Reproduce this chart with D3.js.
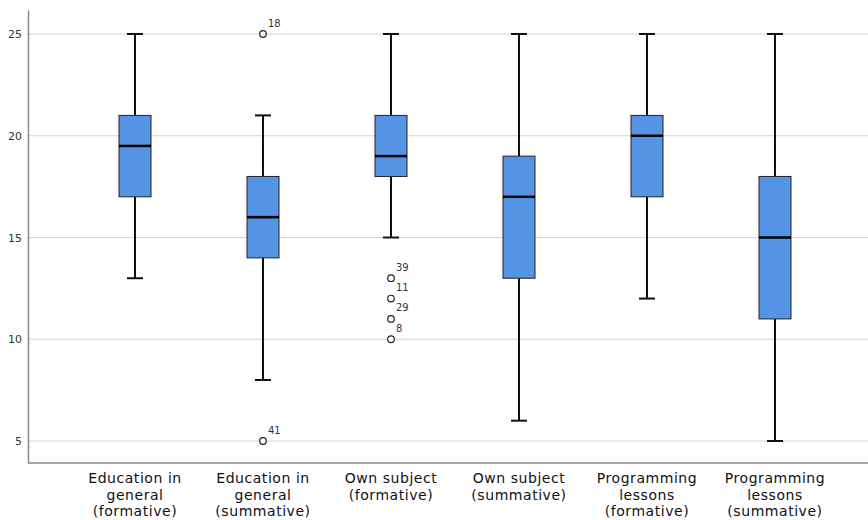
<!DOCTYPE html>
<html><head><meta charset="utf-8">
<script src="https://cdn.jsdelivr.net/npm/d3@7"></script>
<style>body{margin:0;background:#fff}svg{display:block}</style>
</head><body>
<svg id="chart" width="868" height="520"></svg>
<script>
const categories = [
  ["Education in","general","(formative)"],
  ["Education in","general","(summative)"],
  ["Own subject","(formative)"],
  ["Own subject","(summative)"],
  ["Programming","lessons","(formative)"],
  ["Programming","lessons","(summative)"]
];
const whiskerLow  = [13, 8, 15, 6, 12, 5];
const q1          = [17, 14, 18, 13, 17, 11];
const medians     = [19.5, 16, 19, 17, 20, 15];
const q3          = [21, 18, 21, 19, 21, 18];
const whiskerHigh = [25, 21, 25, 25, 25, 25];
const outliers = [
  {cat:1, value:25, label:"18"},
  {cat:1, value:5,  label:"41"},
  {cat:2, value:13, label:"39"},
  {cat:2, value:12, label:"11"},
  {cat:2, value:11, label:"29"},
  {cat:2, value:10, label:"8"}
];
const yTicks = [5, 10, 15, 20, 25];

(function(){
const svg = d3.select("#chart");
const mLeft = 28, mRight = 868, mTop = 10, mBottom = 463;
const y = d3.scaleLinear().domain([3.92, 26.18]).range([mBottom, mTop]);
const x = d3.scaleBand().domain(d3.range(categories.length)).range([71, 839]).padding(0);
const boxW = 32, capW = 16;
const font = "'DejaVu Sans', sans-serif";

svg.append("g").selectAll("line").data(yTicks).join("line")
  .attr("x1", mLeft).attr("x2", mRight)
  .attr("y1", d => y(d)).attr("y2", d => y(d))
  .attr("stroke", "#d4d4d4").attr("stroke-width", 1);

const yAxis = svg.append("g").attr("transform", `translate(${mLeft},0)`)
  .call(d3.axisLeft(y).tickValues(yTicks).tickSize(0).tickPadding(6));
yAxis.select(".domain").attr("stroke", "#8a8a8a").attr("stroke-width", 1.5);
yAxis.selectAll("text").attr("font-family", font).attr("font-size", 11).attr("fill", "#333");

const xAxis = svg.append("g").attr("transform", `translate(0,${mBottom})`)
  .call(d3.axisBottom(x).tickSize(0).tickFormat(""));
xAxis.select(".domain").remove();
svg.append("line").attr("x1", mLeft).attr("x2", mRight).attr("y1", mBottom).attr("y2", mBottom)
  .attr("stroke", "#8a8a8a").attr("stroke-width", 1.5);

const lbl = svg.append("g");
categories.forEach((lines, i) => {
  const cx = x(i) + x.bandwidth()/2;
  lines.forEach((ln, j) => {
    lbl.append("text").attr("x", cx).attr("y", 483 + j * 16.5)
      .attr("text-anchor", "middle").attr("font-family", font).attr("font-size", 14)
      .attr("letter-spacing", 0.55).attr("fill", "#111").text(ln);
  });
});

const g = svg.append("g");
categories.forEach((c, i) => {
  const cx = x(i) + x.bandwidth()/2;
  g.append("line").attr("x1", cx).attr("x2", cx).attr("y1", y(whiskerHigh[i])).attr("y2", y(q3[i]))
    .attr("stroke", "#111").attr("stroke-width", 2);
  g.append("line").attr("x1", cx).attr("x2", cx).attr("y1", y(q1[i])).attr("y2", y(whiskerLow[i]))
    .attr("stroke", "#111").attr("stroke-width", 2);
  [whiskerHigh[i], whiskerLow[i]].forEach(v => {
    g.append("line").attr("x1", cx - capW/2).attr("x2", cx + capW/2).attr("y1", y(v)).attr("y2", y(v))
      .attr("stroke", "#111").attr("stroke-width", 2);
  });
  g.append("rect").attr("x", cx - boxW/2).attr("width", boxW)
    .attr("y", y(q3[i])).attr("height", y(q1[i]) - y(q3[i]))
    .attr("fill", "#5594e4").attr("stroke", "#222").attr("stroke-width", 1);
  g.append("line").attr("x1", cx - boxW/2).attr("x2", cx + boxW/2).attr("y1", y(medians[i])).attr("y2", y(medians[i]))
    .attr("stroke", "#000").attr("stroke-width", 2.5);
});

const o = svg.append("g");
outliers.forEach(d => {
  const cx = x(d.cat) + x.bandwidth()/2;
  o.append("circle").attr("cx", cx).attr("cy", y(d.value)).attr("r", 3.3)
    .attr("fill", "#fff").attr("stroke", "#222").attr("stroke-width", 1.2);
  o.append("text").attr("x", cx + 5).attr("y", y(d.value) - 7.5)
    .attr("font-family", font).attr("font-size", 10).attr("fill", "#333").text(d.label);
});
})();
</script>
</body></html>
